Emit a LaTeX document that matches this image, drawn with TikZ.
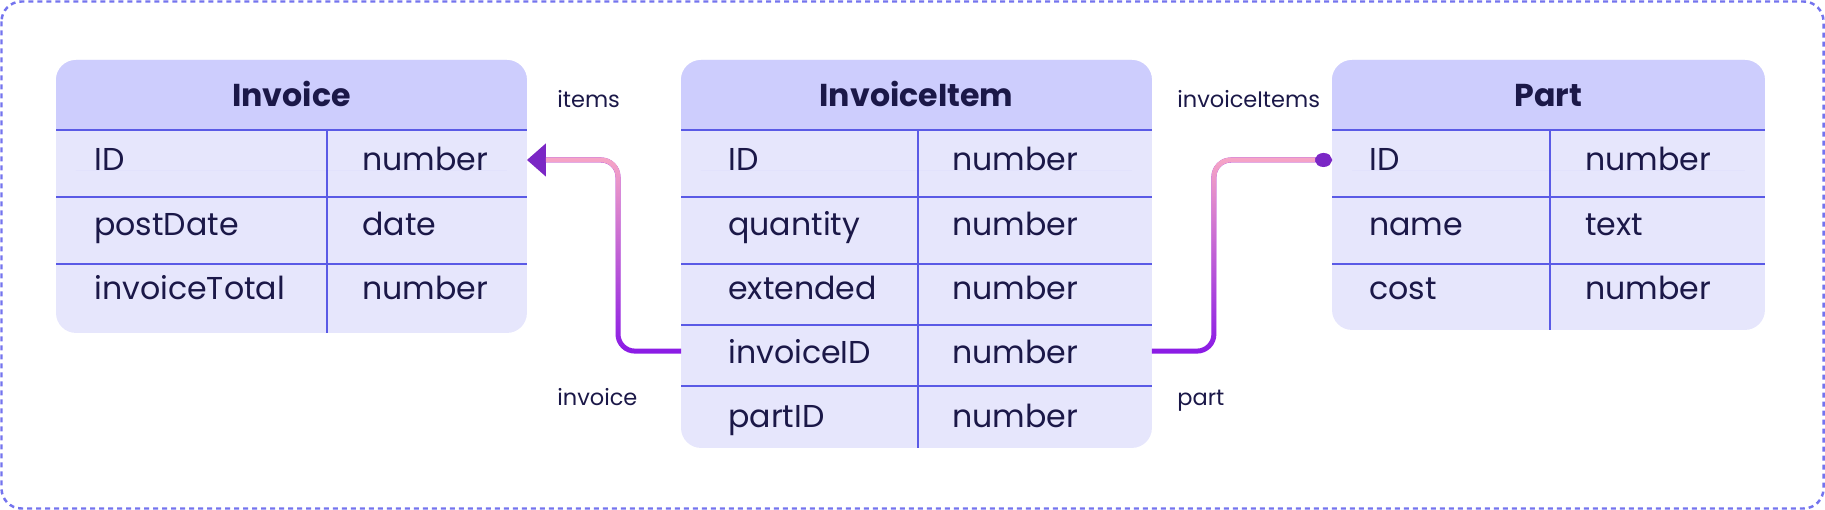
\documentclass[tikz,border=0pt]{standalone}
\usepackage{fontspec}
\setmainfont{Poppins}
\usetikzlibrary{arrows.meta,fadings}
\definecolor{ink}{HTML}{1B1848}
\definecolor{rulecol}{HTML}{5A5AE6}
\definecolor{headfill}{HTML}{CDCDFD}
\definecolor{bodyfill}{HTML}{E6E6FC}
\definecolor{framecol}{HTML}{7474EE}
\definecolor{pinkline}{HTML}{F7A6C6}
\definecolor{purpline}{HTML}{8A1AE6}
\definecolor{tipcol}{HTML}{7B27C5}
\begin{document}
\begin{tikzpicture}[x=0.02cm,y=-0.02cm,
  tbl/.style={fill=bodyfill,rounded corners=0.4cm,anchor=north west,inner sep=0pt,outer sep=0pt},
  fld/.style={text=ink,font=\fontsize{18}{20}\selectfont,anchor=base west,inner sep=0pt},
  ttl/.style={text=ink,font=\fontsize{18}{20}\selectfont\bfseries,anchor=base,inner sep=0pt},
  lbl/.style={text=ink,font=\fontsize{12.8}{15}\selectfont,anchor=base west,inner sep=0pt},
  rowline/.style={rulecol,line width=1pt},
  conn/.style={line width=0.1cm,rounded corners=0.34cm}]
\useasboundingbox (0,0) rectangle (1825,510);
\draw[framecol,line width=1.4pt,dash pattern=on 0.1cm off 0.08cm,rounded corners=0.4cm] (1.5,1.5) rectangle (1823.5,508.5);

% Invoice
\node[tbl,minimum width=9.42cm,minimum height=5.46cm] (invoice) at (56,60) {};
\fill[headfill,rounded corners=0.4cm] (invoice.north west) rectangle (invoice.east |- 0,170);
\fill[bodyfill] (invoice.west |- 0,130) rectangle (invoice.east |- 0,170);
\foreach \y in {130,197,264} \draw[rowline] (invoice.west |- 0,\y) -- (invoice.east |- 0,\y);
\draw[rowline] (327,130) -- (327,0 |- invoice.south);
\node[ttl] (invT) at (invoice.north |- 0,107) {Invoice};
\node[fld] (invID) at (94,171) {ID};
\node[fld] at (362,171) {number};
\node[fld] (invDate) at (94,235) {postDate};
\node[fld] at (362,235) {date};
\node[fld] (invTot) at (94,299) {invoiceTotal};
\node[fld] at (362,299) {number};

% InvoiceItem
\node[tbl,minimum width=9.42cm,minimum height=7.76cm] (item) at (681,60) {};
\fill[headfill,rounded corners=0.4cm] (item.north west) rectangle (item.east |- 0,170);
\fill[bodyfill] (item.west |- 0,130) rectangle (item.east |- 0,170);
\foreach \y in {130,197,264,325,386} \draw[rowline] (item.west |- 0,\y) -- (item.east |- 0,\y);
\draw[rowline] (918,130) -- (918,0 |- item.south);
\node[ttl] (iiT) at (item.north |- 0,107) {InvoiceItem};
\node[fld] (iiID) at (728,171) {ID};
\node[fld] at (952,171) {number};
\node[fld] (iiQty) at (728,235) {quantity};
\node[fld] at (952,235) {number};
\node[fld] (iiExt) at (728,299) {extended};
\node[fld] at (952,299) {number};
\node[fld] (iiInvID) at (728,363) {invoiceID};
\node[fld] at (952,363) {number};
\node[fld] (iiPartID) at (728,427) {partID};
\node[fld] at (952,427) {number};

% Part
\node[tbl,minimum width=8.66cm,minimum height=5.4cm] (part) at (1332,60) {};
\fill[headfill,rounded corners=0.4cm] (part.north west) rectangle (part.east |- 0,170);
\fill[bodyfill] (part.west |- 0,130) rectangle (part.east |- 0,170);
\foreach \y in {130,197,264} \draw[rowline] (part.west |- 0,\y) -- (part.east |- 0,\y);
\draw[rowline] (1550,130) -- (1550,0 |- part.south);
\node[ttl] (ptT) at (part.north |- 0,107) {Part};
\node[fld] (ptID) at (1369,171) {ID};
\node[fld] at (1585,171) {number};
\node[fld] (ptName) at (1369,235) {name};
\node[fld] at (1585,235) {text};
\node[fld] (ptCost) at (1369,299) {cost};
\node[fld] at (1585,299) {number};

% relations
\draw[conn,purpline,-{Triangle[length=0.38cm,width=0.64cm,color=tipcol]}] (item.west |- iiInvID) -- ++(-63,0) |- (invoice.east |- invID);
\draw[conn,pinkline,path fading=south,shorten >=0.38cm] (item.west |- iiInvID) -- ++(-63,0) |- (invoice.east |- invID);
\draw[conn,purpline,-{Ellipse[length=0.34cm,width=0.28cm,color=tipcol]}] (item.east |- iiInvID) -- ++(62,0) |- (part.west |- ptID);
\draw[conn,pinkline,path fading=south,shorten >=0.34cm] (item.east |- iiInvID) -- ++(62,0) |- (part.west |- ptID);
\node[lbl] (lItems) at (557,108) {items};
\node[lbl] (lInvoice) at (557,405) {invoice};
\node[lbl] (lInvItems) at (1177,108) {invoiceItems};
\node[lbl] (lPart) at (1177,405) {part};

\end{tikzpicture}
\end{document}
